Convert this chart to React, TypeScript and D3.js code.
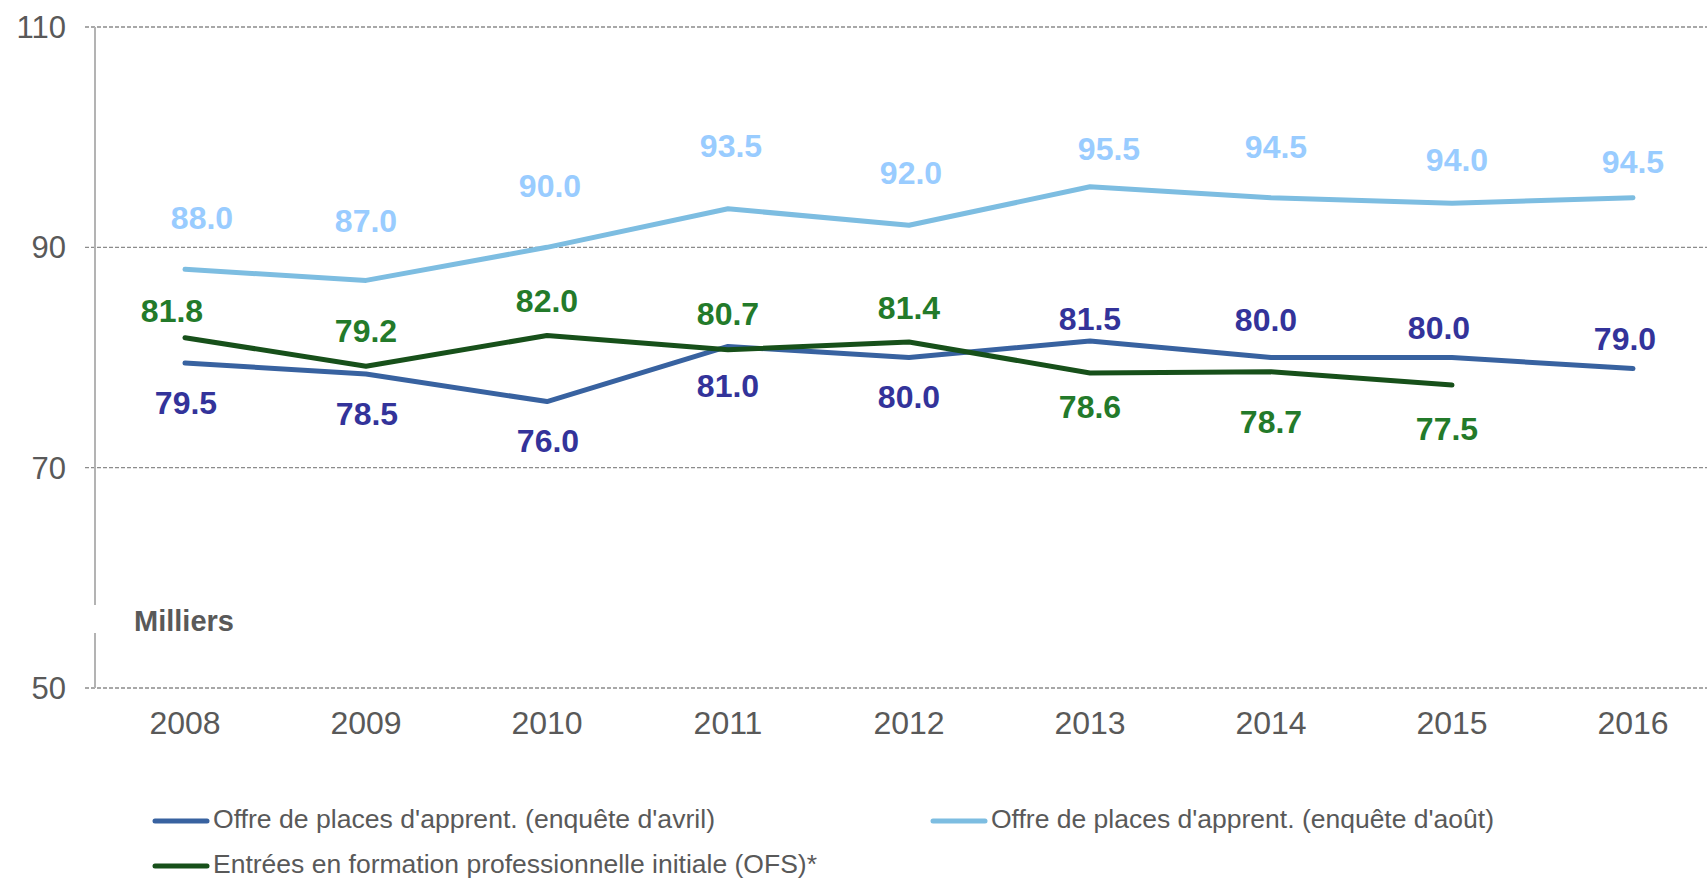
import { useMemo } from "react";
import * as d3 from "d3";

const width = 1707;
const height = 879;

// Chart values (milliers)
const years = ["2008", "2009", "2010", "2011", "2012", "2013", "2014", "2015", "2016"];
const avril = [79.5, 78.5, 76.0, 81.0, 80.0, 81.5, 80.0, 80.0, 79.0];
const aout = [88.0, 87.0, 90.0, 93.5, 92.0, 95.5, 94.5, 94.0, 94.5];
const ofs = [81.8, 79.2, 82.0, 80.7, 81.4, 78.6, 78.7, 77.5];
const yTicks = [50, 70, 90, 110];

// label nudges in px relative to the point (manual placement in the original)
const avrilLabelDx = [1, 1, 1, 0, 0, 0, -5, -13, -8];
const avrilLabelDy = [39, 39, 38.5, 39, 38.5, -22, -38, -30, -30];
const aoutLabelDx = [17, 0, 3, 3, 2, 19, 5, 5, 0];
const aoutLabelDy = [-52, -60, -62, -63, -52.5, -38, -51.6, -44, -36];
const ofsLabelDx = [-13, 0, 0, 0, 0, 0, 0, -5];
const ofsLabelDy = [-27, -35.6, -35, -36, -34.6, 34, 50, 43];

const font = "'Liberation Sans', Arial, Helvetica, sans-serif";
const textGray = "#595959";

const series = [
  {
    name: "Offre de places d'apprent. (enquête d'avril)",
    values: avril,
    stroke: "#3862a0",
    labelColor: "#33339a",
    dx: avrilLabelDx,
    dy: avrilLabelDy,
    legendW: 502,
  },
  {
    name: "Offre de places d'apprent. (enquête d'août)",
    values: aout,
    stroke: "#7dbde1",
    labelColor: "#99ccff",
    dx: aoutLabelDx,
    dy: aoutLabelDy,
    legendW: 503,
  },
  {
    name: "Entrées en formation professionnelle initiale (OFS)*",
    values: ofs,
    stroke: "#17501a",
    labelColor: "#237a2a",
    dx: ofsLabelDx,
    dy: ofsLabelDy,
    legendW: 604,
  },
];

export default function App() {
  const x = useMemo(() => d3.scalePoint<string>().domain(years).range([185, 1633]), []);
  const y = useMemo(() => d3.scaleLinear().domain([50, 110]).range([688, 27]), []);

  const line = d3
    .line<number>()
    .x((_, i) => x(years[i]) as number)
    .y((d) => y(d));

  const legendPos = [
    { x: 153, y: 821 },
    { x: 931, y: 821 },
    { x: 153, y: 866 },
  ];

  return (
    <svg
      width={width}
      height={height}
      style={{ position: "absolute", left: 0, top: 0, background: "#fff" }}
      fontFamily={font}
    >
      {/* gridlines */}
      {yTicks.map((t) => (
        <line
          key={t}
          x1={85}
          x2={width}
          y1={y(t)}
          y2={y(t)}
          stroke="#8c8c8c"
          strokeWidth={1.3}
          strokeDasharray="4,2"
        />
      ))}
      {/* y axis */}
      <line x1={95} x2={95} y1={y(110)} y2={y(50)} stroke="#b3b3b3" strokeWidth={2} />
      {yTicks.map((t) => (
        <text
          key={t}
          x={66}
          y={y(t)}
          dy="0.36em"
          textAnchor="end"
          fontSize={31}
          fill={textGray}
        >
          {t}
        </text>
      ))}
      {/* x labels */}
      {years.map((yr) => (
        <text key={yr} x={x(yr)} y={734} textAnchor="middle" fontSize={32} fill={textGray}>
          {yr}
        </text>
      ))}

      {/* unit label */}
      <rect x={90} y={605} width={150} height={28} fill="#fff" />
      <text x={134} y={631} fontSize={29} fontWeight="bold" fill={textGray}>
        Milliers
      </text>

      {/* lines */}
      {series.map((s) => (
        <path
          key={s.name}
          d={line(s.values) || ""}
          fill="none"
          stroke={s.stroke}
          strokeWidth={5}
          strokeLinecap="round"
          strokeLinejoin="round"
        />
      ))}

      {/* value labels */}
      {series.map((s) =>
        s.values.map((v, i) => (
          <text
            key={s.name + i}
            x={(x(years[i]) as number) + s.dx[i]}
            y={y(v) + s.dy[i]}
            dy="0.36em"
            textAnchor="middle"
            fontSize={32}
            fontWeight="bold"
            fill={s.labelColor}
          >
            {v.toFixed(1)}
          </text>
        ))
      )}

      {/* legend */}
      {series.map((s, i) => (
        <g key={s.name} transform={`translate(${legendPos[i].x},${legendPos[i].y})`}>
          <line x1={2} x2={54} y1={0} y2={0} stroke={s.stroke} strokeWidth={5} strokeLinecap="round" />
          <text
            x={60}
            y={6.5}
            fontSize={26.5}
            fill={textGray}
            textLength={s.legendW}
            lengthAdjust="spacingAndGlyphs"
          >
            {s.name}
          </text>
        </g>
      ))}
    </svg>
  );
}
